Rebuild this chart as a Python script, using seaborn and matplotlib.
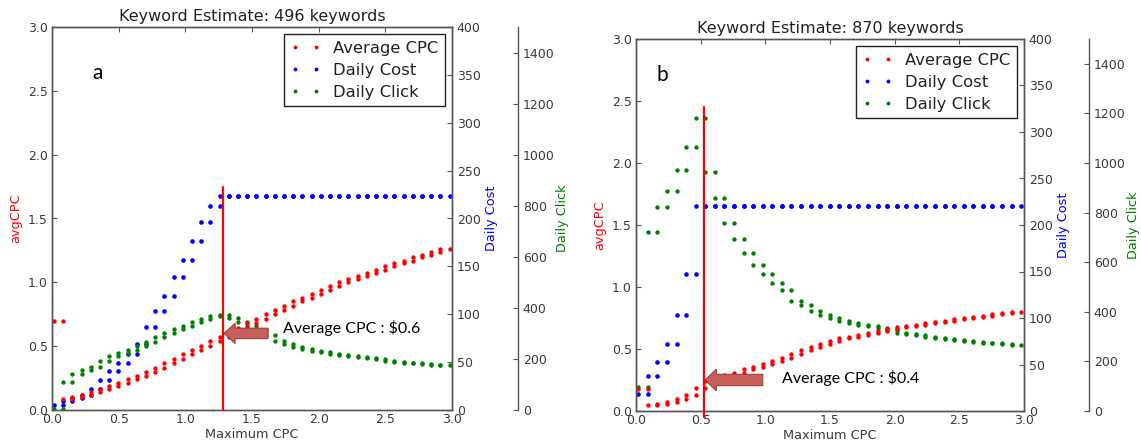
import numpy as np
import pandas as pd
import matplotlib
matplotlib.use("Agg")
import matplotlib.pyplot as plt
from matplotlib.lines import Line2D
import seaborn as sns

# ---------------- data ----------------
# panel a : maximum-CPC sample positions (each estimate sits on two neighbouring positions)
max_cpc_a = [0.015, 0.084, 0.153, 0.222, 0.291, 0.360, 0.429, 0.498, 0.567, 0.636,
             0.705, 0.774, 0.843, 0.912, 0.981, 1.050, 1.119, 1.188, 1.257, 1.326,
             1.395, 1.464, 1.533, 1.602, 1.671, 1.740, 1.809, 1.878, 1.947, 2.016,
             2.085, 2.154, 2.223, 2.292, 2.361, 2.430, 2.499, 2.568, 2.637, 2.706,
             2.775, 2.844, 2.913, 2.982]
avg_cpc_a = [0.70, 0.085, 0.10, 0.12, 0.14, 0.165, 0.19, 0.215, 0.24, 0.27,
             0.30, 0.33, 0.365, 0.40, 0.435, 0.47, 0.505, 0.54, 0.575, 0.61,
             0.645, 0.68, 0.715, 0.75, 0.78, 0.815, 0.85, 0.88, 0.91, 0.94,
             0.97, 1.0, 1.025, 1.05, 1.075, 1.10, 1.125, 1.15, 1.17, 1.195,
             1.215, 1.24, 1.265]
daily_cost_a = [5, 9, 13, 16, 22, 31, 41, 49, 59, 69,
                87, 103, 119, 139, 157, 176, 196, 213, 223, 223,
                223, 223, 223, 223, 223, 223, 223, 223, 223, 223,
                223, 223, 223, 223, 223, 223, 223, 223, 223, 223,
                223, 223, 223]
daily_click_a = [5, 110, 140, 155, 170, 190, 210, 225, 235, 250,
                 265, 285, 300, 318, 330, 345, 358, 368, 372, 360,
                 345, 330, 312, 292, 272, 258, 246, 238, 232, 226,
                 221, 216, 211, 206, 202, 198, 193, 189, 186, 184,
                 181, 178, 176]

# panel b
max_cpc_b = [0.018, 0.092, 0.166, 0.240, 0.314, 0.388, 0.462, 0.536, 0.610, 0.684,
             0.758, 0.832, 0.906, 0.980, 1.054, 1.128, 1.202, 1.276, 1.350, 1.424,
             1.498, 1.572, 1.646, 1.720, 1.794, 1.868, 1.942, 2.016, 2.090, 2.164,
             2.238, 2.312, 2.386, 2.460, 2.534, 2.608, 2.682, 2.756, 2.830, 2.904,
             2.978]
avg_cpc_b = [0.18, 0.045, 0.055, 0.075, 0.10, 0.13, 0.185, 0.245, 0.27, 0.29,
             0.31, 0.335, 0.355, 0.38, 0.40, 0.43, 0.46, 0.49, 0.515, 0.54,
             0.565, 0.585, 0.60, 0.615, 0.63, 0.645, 0.66, 0.675, 0.685, 0.695,
             0.707, 0.715, 0.726, 0.74, 0.747, 0.755, 0.766, 0.78, 0.79, 0.80]
daily_cost_b = [18, 38, 53, 72, 103, 147, 220, 220, 220, 220,
                220, 220, 220, 220, 220, 220, 220, 220, 220, 220,
                220, 220, 220, 220, 220, 220, 220, 220, 220, 220,
                220, 220, 220, 220, 220, 220, 220, 220, 220, 220]
daily_click_b = [98, 723, 823, 889, 970, 1063, 1180, 965, 860, 760,
                 695, 639, 590, 553, 518, 488, 445, 428, 405, 388,
                 375, 363, 355, 348, 343, 334, 327, 315, 309, 305,
                 300, 293, 290, 287, 284, 280, 276, 273, 270, 266]

titles = ["Keyword Estimate: 496 keywords", "Keyword Estimate: 870 keywords"]
panel_letters = ["a", "b"]
chosen_cpc = [1.28, 0.525]          # red vertical marker
chosen_label = ["Average CPC : \\$0.6", "Average CPC : \\$0.4"]
series_names = ["Average CPC", "Daily Cost", "Daily Click"]

# ---------------- style ----------------
sns.set_style("white")
plt.rcParams.update({
    "font.family": ["DejaVu Sans"],
    "xtick.direction": "in",
    "ytick.direction": "in",
    "xtick.top": True,
    "xtick.major.size": 3.5,
    "ytick.major.size": 3.5,
    "xtick.color": "#555555",
    "ytick.color": "#555555",
    "xtick.labelcolor": "#3a3a3a",
    "ytick.labelcolor": "#3a3a3a",
    "axes.edgecolor": "#555555",
    "axes.linewidth": 1.0,
})

SPINE = "#555555"
TXT = "#3a3a3a"


def pairs(xs, vals):
    xs = np.asarray(xs, dtype=float)
    vals = np.asarray(vals, dtype=float)
    return pd.DataFrame({"x": np.concatenate([xs[:-1], xs[1:]]),
                         "y": np.concatenate([vals, vals])})


def panel(fig, rect, offset, xs, cpc, cost, click, title, letter, letter_xy,
          cut, line_rng, arrow_tip, arrow_tail, arrow_scale, text_xy, text):
    ax = fig.add_axes(rect)
    ax2 = ax.twinx()
    ax3 = ax.twinx()
    ax3.spines["right"].set_position(("axes", offset))
    for sp in ["top", "bottom", "left"]:
        ax3.spines[sp].set_visible(False)
    ax3.patch.set_visible(False)
    # main axes on top so red points, marker line and legend draw above
    ax.set_zorder(ax3.get_zorder() + 1)
    ax.patch.set_visible(False)

    sns.scatterplot(data=pairs(xs, cost), x="x", y="y", ax=ax2, color="blue",
                    s=11, linewidth=0, legend=False)
    sns.scatterplot(data=pairs(xs, click), x="x", y="y", ax=ax3, color="green",
                    s=10, linewidth=0, legend=False)
    sns.scatterplot(data=pairs(xs, cpc), x="x", y="y", ax=ax, color="red",
                    s=10, linewidth=0, legend=False)

    ax.set_xlim(0, 3)
    ax.set_ylim(0, 3)
    ax2.set_ylim(0, 400)
    ax3.set_ylim(0, 1500)
    ax.set_xticks(np.arange(0, 3.01, 0.5))
    ax.set_yticks(np.arange(0, 3.01, 0.5))
    ax2.set_yticks(np.arange(0, 401, 50))
    ax3.set_yticks(np.arange(0, 1401, 200))
    ax.xaxis.set_major_formatter(matplotlib.ticker.FormatStrFormatter("%.1f"))
    ax.yaxis.set_major_formatter(matplotlib.ticker.FormatStrFormatter("%.1f"))
    for a in (ax, ax2, ax3):
        a.tick_params(labelsize=9, direction="in", length=3.5, color=SPINE,
                      labelcolor=TXT)
        for sp in a.spines.values():
            sp.set_color(SPINE)
    ax.tick_params(axis="x", top=True, pad=2.5)
    ax.tick_params(axis="y", pad=3)

    ax.set_xlabel("Maximum CPC", fontsize=9.3, color=TXT, labelpad=1)
    ax.set_ylabel("avgCPC", fontsize=9.3, color="red")
    ax2.set_ylabel("Daily Cost", fontsize=9.3, color="blue", labelpad=3)
    ax3.set_ylabel("Daily Click", fontsize=9.3, color="green", labelpad=1)
    ax.set_title(title, fontsize=11.5, color="#222222", pad=4)

    ax.plot([cut, cut], list(line_rng), color="red", lw=1.6, clip_on=False,
            zorder=3)
    ax.annotate("", xy=arrow_tip, xytext=arrow_tail,
                arrowprops=dict(arrowstyle="simple,head_length=0.8,head_width=%.2f,tail_width=%.2f"
                                % (arrow_scale[0], arrow_scale[1]),
                                mutation_scale=10, fc="#c95f5b", ec="#9e3d3a",
                                lw=0.8, shrinkA=0, shrinkB=0), zorder=4)
    ax.text(text_xy[0], text_xy[1], text, fontsize=11.5, family=["Lato"],
            va="center", ha="left", color="black")
    ax.text(letter_xy[0], letter_xy[1], letter, fontsize=15, family=["Lato"],
            va="baseline", ha="left", color="black")

    handles = [Line2D([], [], marker="o", ls="", color=c, markersize=2.8, mew=0)
               for c in ("red", "blue", "green")]
    leg = ax.legend(handles, series_names, loc="upper right", numpoints=2,
                    fontsize=11.8, frameon=True, fancybox=False,
                    edgecolor="#222222", framealpha=1, borderaxespad=0.45,
                    handlelength=1.9, handletextpad=0.7, labelspacing=0.42,
                    borderpad=0.4)
    leg.get_frame().set_linewidth(1.0)
    for t in leg.get_texts():
        t.set_color("#222222")
    return ax


fig = plt.figure(figsize=(11.41, 4.44), dpi=100)
W, H = 1141, 444

panel(fig, [52 / W, 1 - 410 / H, 400 / W, 383 / H], 1.165,
      max_cpc_a, avg_cpc_a, daily_cost_a, daily_click_a,
      titles[0], panel_letters[0], (0.30, 2.59),
      chosen_cpc[0], (0.0, 1.75), (1.29, 0.60), (1.62, 0.60), (1.45, 0.75),
      (1.73, 0.64), chosen_label[0])

panel(fig, [636 / W, 1 - 411 / H, 388 / W, 372 / H], 1.1675,
      max_cpc_b, avg_cpc_b, daily_cost_b, daily_click_b,
      titles[1], panel_letters[1], (0.16, 2.66),
      chosen_cpc[1], (-0.045, 2.45), (0.535, 0.25), (0.98, 0.25), (1.55, 0.82),
      (1.13, 0.265), chosen_label[1])

fig.savefig("out.png", dpi=100, facecolor="white")
